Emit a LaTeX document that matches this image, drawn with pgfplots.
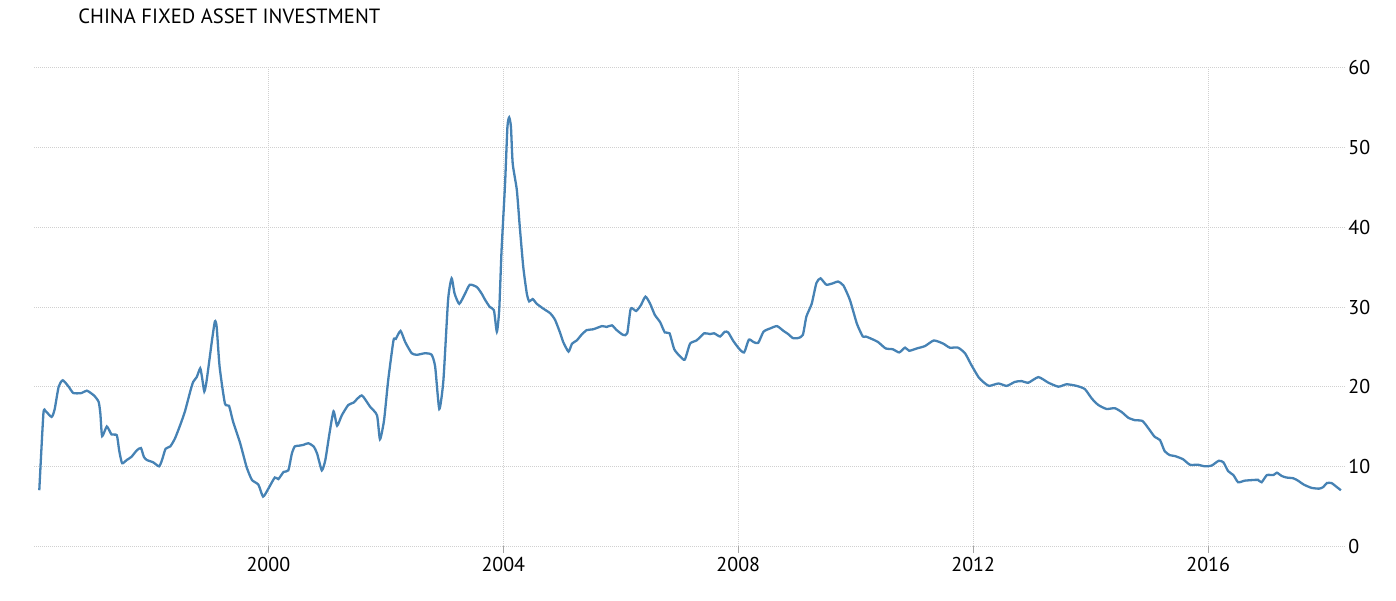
\documentclass[border=0pt]{standalone}
\usepackage{fontspec}
\setmainfont{PT Sans}
\usepackage{pgfplots}
\pgfplotsset{compat=1.18}
\definecolor{lineblue}{HTML}{4682B4}
\definecolor{gridgray}{HTML}{D0D0D0}
\begin{document}
\begin{tikzpicture}
\begin{axis}[
  at={(0,0)}, anchor=south west,
  scale only axis, width=655.5pt, height=239pt,
  xmin=1996.01, xmax=2018.33, ymin=0, ymax=60,
  axis line style={draw=none},
  xtick={2000,2004,2008,2012,2016},
  ytick={0,10,20,30,40,50,60},
  xtick pos=bottom, ytick pos=right, yticklabel pos=right,
  tick align=outside, major tick length=3.5pt,
  xtick style={draw=gridgray!80!black, line width=0.5pt},
  ytick style={draw=none},
  grid=major,
  major grid style={draw=gridgray, line width=0.5pt, dash pattern=on 0.5pt off 0.5pt},
  /pgf/number format/1000 sep={},
  /pgf/number format/assume math mode=true,
  tick label style={font=\fontsize{10}{12}\selectfont, inner sep=0pt},
  xticklabel style={anchor=base, yshift=-9pt},
  yticklabel style={anchor=west, xshift=-2pt},
  clip=false,
]
\addplot[lineblue, line width=1.15pt, smooth, tension=0.35] coordinates {
(1996.10,7.0)(1996.17,16.6)(1996.21,16.9)(1996.31,16.2)(1996.36,17.1)(1996.43,20.0)
(1996.50,20.8)(1996.60,20.0)(1996.68,19.2)(1996.82,19.2)(1996.91,19.5)(1997.03,18.9)
(1997.11,18.1)(1997.14,16.6)(1997.17,13.8)(1997.25,15.0)(1997.33,14.0)(1997.42,13.9)
(1997.46,12.0)(1997.51,10.4)(1997.59,10.8)(1997.67,11.2)(1997.76,12.0)(1997.83,12.3)
(1997.88,11.2)(1997.93,10.8)(1998.04,10.5)(1998.14,10.0)(1998.19,10.8)(1998.25,12.2)
(1998.33,12.5)(1998.41,13.5)(1998.50,15.2)(1998.58,16.9)(1998.67,19.4)(1998.72,20.6)
(1998.78,21.2)(1998.84,22.3)(1998.87,21.2)(1998.91,19.4)(1998.95,20.8)(1999.04,25.8)
(1999.09,28.2)(1999.12,27.5)(1999.17,22.5)(1999.26,17.9)(1999.33,17.6)(1999.40,15.6)
(1999.52,12.9)(1999.63,9.9)(1999.72,8.3)(1999.83,7.7)(1999.91,6.2)(2000.00,7.2)
(2000.11,8.6)(2000.17,8.4)(2000.26,9.3)(2000.34,9.5)(2000.40,11.6)(2000.45,12.5)
(2000.53,12.6)(2000.60,12.7)(2000.68,12.9)(2000.77,12.5)(2000.83,11.6)(2000.91,9.5)
(2000.97,10.8)(2001.04,14.1)(2001.11,16.9)(2001.17,15.1)(2001.25,16.4)(2001.36,17.7)
(2001.45,18.0)(2001.59,18.9)(2001.73,17.5)(2001.85,16.4)(2001.90,13.4)(2001.97,15.8)
(2002.04,20.8)(2002.13,25.8)(2002.17,26.0)(2002.25,27.0)(2002.33,25.6)(2002.44,24.2)
(2002.53,24.0)(2002.67,24.2)(2002.78,24.0)(2002.84,22.5)(2002.91,17.2)(2002.98,20.8)
(2003.06,30.9)(2003.12,33.6)(2003.17,31.7)(2003.25,30.4)(2003.35,31.7)(2003.43,32.8)
(2003.55,32.5)(2003.63,31.7)(2003.69,30.9)(2003.77,30.0)(2003.84,29.6)(2003.89,26.9)
(2003.93,29.6)(2003.97,37.1)(2004.03,45.5)(2004.07,52.6)(2004.10,53.8)(2004.13,52.6)
(2004.16,48.0)(2004.23,44.7)(2004.28,40.1)(2004.34,35.0)(2004.40,31.7)(2004.44,30.7)
(2004.50,31.0)(2004.57,30.4)(2004.68,29.8)(2004.80,29.2)(2004.88,28.4)(2004.97,26.7)
(2005.02,25.6)(2005.11,24.4)(2005.17,25.4)(2005.25,25.8)(2005.33,26.5)(2005.42,27.1)
(2005.53,27.2)(2005.68,27.6)(2005.76,27.5)(2005.85,27.7)(2005.93,27.1)(2006.04,26.5)
(2006.11,26.7)(2006.17,29.8)(2006.26,29.5)(2006.34,30.2)(2006.42,31.3)(2006.50,30.4)
(2006.58,29.0)(2006.67,28.1)(2006.75,26.8)(2006.83,26.7)(2006.91,24.7)(2007.01,23.8)
(2007.09,23.4)(2007.18,25.4)(2007.29,25.8)(2007.42,26.7)(2007.52,26.6)(2007.59,26.7)
(2007.69,26.3)(2007.77,26.9)(2007.83,26.8)(2007.91,25.8)(2008.01,24.8)(2008.10,24.3)
(2008.18,25.9)(2008.26,25.6)(2008.34,25.5)(2008.43,26.9)(2008.54,27.3)(2008.66,27.6)
(2008.77,27.0)(2008.85,26.6)(2008.93,26.1)(2009.02,26.1)(2009.10,26.5)(2009.16,28.8)
(2009.25,30.4)(2009.33,33.0)(2009.40,33.6)(2009.50,32.8)(2009.62,33.0)(2009.70,33.2)
(2009.79,32.7)(2009.90,30.9)(2010.02,27.9)(2010.12,26.3)(2010.17,26.3)(2010.27,26.0)
(2010.38,25.6)(2010.51,24.8)(2010.63,24.7)(2010.74,24.3)(2010.84,24.9)(2010.91,24.5)
(2011.04,24.8)(2011.18,25.1)(2011.33,25.8)(2011.49,25.4)(2011.60,24.9)(2011.74,24.9)
(2011.86,24.2)(2011.97,22.7)(2012.09,21.2)(2012.17,20.6)(2012.27,20.1)(2012.43,20.4)
(2012.57,20.1)(2012.71,20.6)(2012.82,20.7)(2012.94,20.5)(2013.11,21.2)(2013.28,20.5)
(2013.45,20.0)(2013.59,20.3)(2013.76,20.1)(2013.90,19.7)(2014.02,18.5)(2014.13,17.7)
(2014.27,17.2)(2014.41,17.3)(2014.53,16.8)(2014.64,16.1)(2014.75,15.8)(2014.88,15.7)
(2014.98,14.8)(2015.09,13.7)(2015.18,13.3)(2015.26,11.9)(2015.35,11.4)(2015.43,11.3)
(2015.57,10.9)(2015.69,10.2)(2015.83,10.2)(2015.94,10.0)(2016.06,10.1)(2016.18,10.7)
(2016.26,10.5)(2016.34,9.4)(2016.43,8.9)(2016.51,8.0)(2016.62,8.2)(2016.80,8.3)
(2016.85,8.3)(2016.91,8.0)(2017.00,8.9)(2017.11,8.9)(2017.17,9.2)(2017.25,8.8)
(2017.33,8.6)(2017.45,8.5)(2017.53,8.2)(2017.63,7.7)(2017.76,7.3)(2017.89,7.2)
(2017.96,7.4)(2018.02,7.9)(2018.10,7.9)(2018.19,7.4)(2018.26,7.0)
};
\end{axis}
\node[anchor=base west, inner sep=0pt, font=\fontsize{10.3}{12}\selectfont] at (22pt,261pt) {CHINA FIXED ASSET INVESTMENT};
\path[use as bounding box] (-17pt,-27pt) rectangle (681pt,273pt);
\end{tikzpicture}
\end{document}
